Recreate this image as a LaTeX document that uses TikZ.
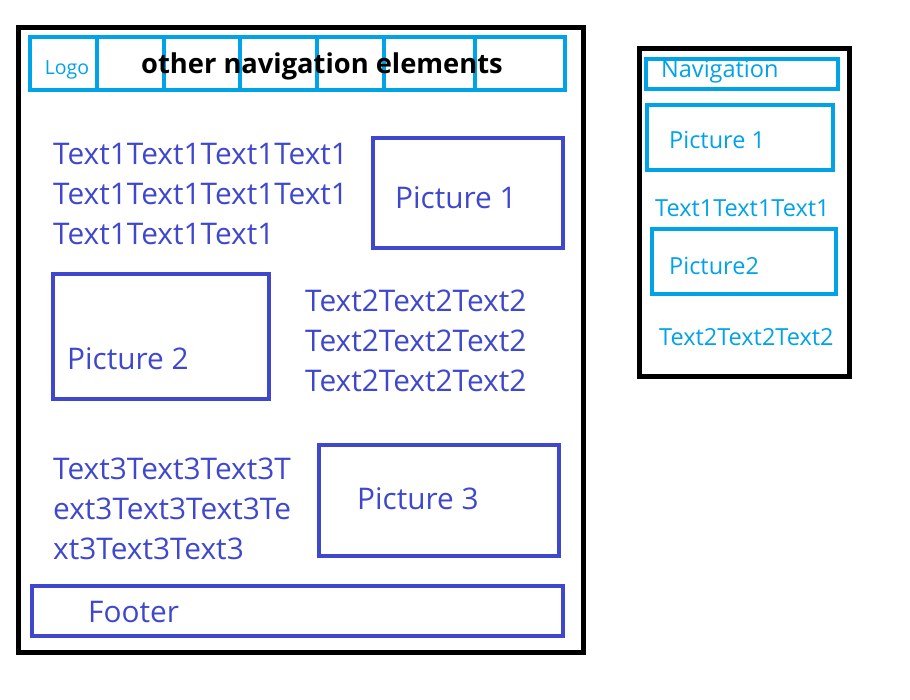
\documentclass[tikz,border=0pt]{standalone}
\usepackage{fontspec}
\setmainfont{Open Sans}
\usepackage{tikz}
\usetikzlibrary{positioning}
\definecolor{indigo}{HTML}{3F48CC}
\definecolor{turq}{HTML}{00A2E8}

\begin{document}
\begin{tikzpicture}[x=1pt, y=-1pt, frame/.style={draw=black, line width=5pt, inner sep=0pt}, bluebox/.style={draw=indigo, line width=4pt, inner sep=0pt}, cyanbox/.style={draw=turq, line width=4pt, inner sep=0pt}, bigtxt/.style={text=indigo, anchor=west, align=left, inner sep=0pt, font=\fontsize{29.8}{40}\selectfont}, smalltxt/.style={text=turq, anchor=west, inner sep=0pt, font=\fontsize{23.5}{26}\selectfont}]
        \useasboundingbox (0,0) rectangle (910,700);

        \node[frame, minimum width=565pt, minimum height=624pt] (page) at (301,340) {};
        \foreach \xa/\xb [count=\i] in {30/97, 97/164, 164/240, 240/317, 317/384, 384/475, 475/565}
            \node[cyanbox, minimum width=\xb pt-\xa pt, minimum height=53pt] (nav\i) at ({(\xa+\xb)/2},63.5) {};
        \node[text=turq, inner sep=0pt, font=\fontsize{19.5}{22}\selectfont] (logo) at (67,70) {Logo};
        \node[inner sep=0pt, font=\fontsize{27.3}{30}\selectfont\bfseries] (navtxt) at (322,66) {other navigation elements};

        \node[bigtxt] (txta) at (53,194) {Text1Text1Text1Text1\\Text1Text1Text1Text1\\Text1Text1Text1};
        \node[bluebox, minimum width=190pt, minimum height=110pt] (pica) at (468,193) {};
        \node[bigtxt] (picalbl) at (395,198) {Picture 1};

        \node[bluebox, minimum width=216pt, minimum height=125pt] (picb) at (161,336.5) {};
        \node[bigtxt] (picblbl) at (67,359) {Picture 2};
        \node[bigtxt] (txtb) at (305,341) {Text2Text2Text2\\Text2Text2Text2\\Text2Text2Text2};

        \node[bigtxt] (txtc) at (53,509) {Text3Text3Text3T\\ext3Text3Text3Te\\xt3Text3Text3};
        \node[bluebox, minimum width=240pt, minimum height=111pt] (picc) at (439,500.5) {};
        \node[bigtxt] (picclbl) at (357,499) {Picture 3};

        \node[bluebox, minimum width=531pt, minimum height=50pt] (footer) at (297.5,611) {};
        \node[bigtxt] (footlbl) at (88,612) {Footer};

        \node[frame, minimum width=210pt, minimum height=328pt] (mobile) at (744.5,212.5) {};
        \node[cyanbox, minimum width=192pt, minimum height=30pt] (mnav) at (742,74) {};
        \node[smalltxt] (mnavlbl) at (661,72) {Navigation};
        \node[cyanbox, minimum width=186pt, minimum height=65pt] (mpica) at (740,137.5) {};
        \node[smalltxt] (mpicalbl) at (669,140) {Picture 1};
        \node[smalltxt] (mtxta) at (655,208) {Text1Text1Text1};
        \node[cyanbox, minimum width=184pt, minimum height=65pt] (mpicb) at (744,261.5) {};
        \node[smalltxt] (mpicblbl) at (669,266) {Picture2};
        \node[smalltxt] (mtxtb) at (659,337) {Text2Text2Text2};
    \end{tikzpicture}
\end{document}
